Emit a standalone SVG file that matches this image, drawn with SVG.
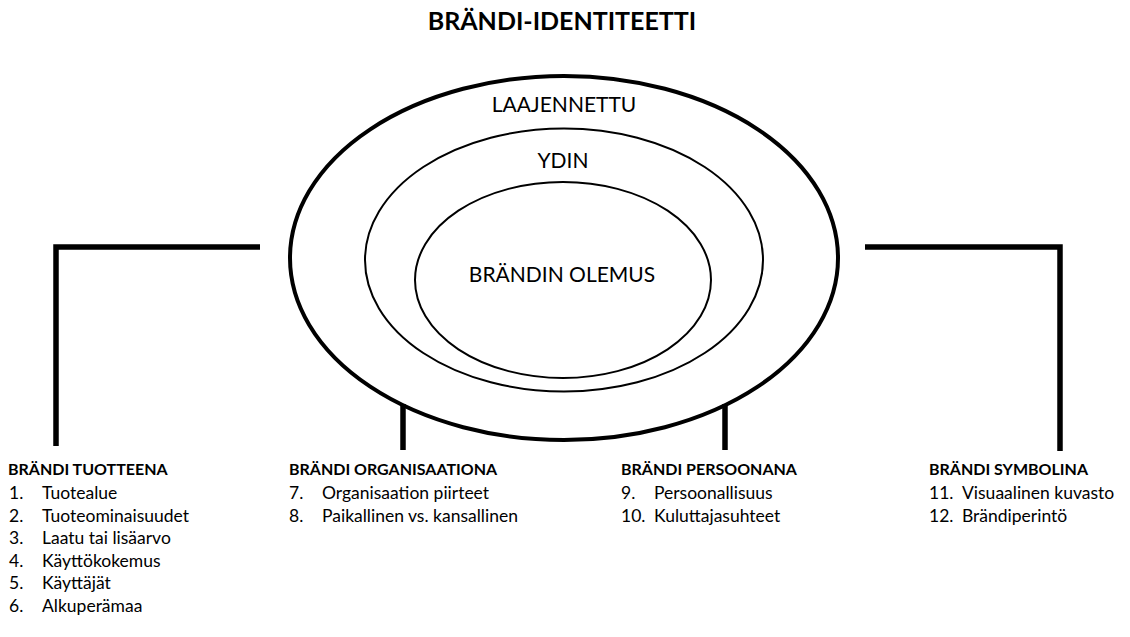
<svg xmlns="http://www.w3.org/2000/svg" width="1130" height="637" viewBox="0 0 1130 637">
<style>
text{font-family:Lato,"Open Sans","Liberation Sans",sans-serif;fill:#000}
.title{font-size:25px;font-weight:bold;text-anchor:middle}
.ring{font-size:21px;text-anchor:middle}
.hd{font-size:16px;font-weight:bold}
.it{font-size:17.5px}
.conn{stroke:#000;stroke-width:5.5;fill:none;stroke-linecap:butt}
.el{fill:none;stroke:#000}
</style>
<rect width="1130" height="637" fill="#fff"/>
<text class="title" x="562" y="30">BRÄNDI-IDENTITEETTI</text>
<g id="connectors">
<polyline class="conn" points="260,247 56,247 56,446"/>
<polyline class="conn" points="865,247 1060,247 1060,451"/>
<line class="conn" x1="403" y1="404" x2="403" y2="450"/>
<line class="conn" x1="725" y1="404" x2="725" y2="450"/>
</g>
<g id="outer">
<ellipse class="el" cx="564" cy="258" rx="274" ry="182" stroke-width="4"/>
<text class="ring" x="564" y="112">LAAJENNETTU</text>
</g>
<g id="middle">
<ellipse class="el" cx="564" cy="260" rx="199" ry="131.5" stroke-width="2"/>
<text class="ring" x="563" y="168">YDIN</text>
</g>
<g id="inner">
<ellipse class="el" cx="563" cy="280" rx="148" ry="98" stroke-width="2"/>
<text class="ring" x="562" y="282">BRÄNDIN OLEMUS</text>
</g>
<g id="tuotteena">
<text class="hd" x="8" y="475">BRÄNDI TUOTTEENA</text>
<text class="it" x="9" y="499">1.</text><text class="it" x="42" y="499">Tuotealue</text>
<text class="it" x="9" y="521.5">2.</text><text class="it" x="42" y="521.5">Tuoteominaisuudet</text>
<text class="it" x="9" y="544">3.</text><text class="it" x="42" y="544">Laatu tai lisäarvo</text>
<text class="it" x="9" y="566.5">4.</text><text class="it" x="42" y="566.5">Käyttökokemus</text>
<text class="it" x="9" y="589">5.</text><text class="it" x="42" y="589">Käyttäjät</text>
<text class="it" x="9" y="611.5">6.</text><text class="it" x="42" y="611.5">Alkuperämaa</text>
</g>
<g id="organisaationa">
<text class="hd" x="289" y="475">BRÄNDI ORGANISAATIONA</text>
<text class="it" x="289" y="499">7.</text><text class="it" x="322" y="499">Organisaation piirteet</text>
<text class="it" x="289" y="521.5">8.</text><text class="it" x="322" y="521.5">Paikallinen vs. kansallinen</text>
</g>
<g id="persoonana">
<text class="hd" x="621" y="475">BRÄNDI PERSOONANA</text>
<text class="it" x="621" y="499">9.</text><text class="it" x="654" y="499">Persoonallisuus</text>
<text class="it" x="621" y="521.5">10.</text><text class="it" x="654" y="521.5">Kuluttajasuhteet</text>
</g>
<g id="symbolina">
<text class="hd" x="929" y="475">BRÄNDI SYMBOLINA</text>
<text class="it" x="929" y="499">11.</text><text class="it" x="962" y="499">Visuaalinen kuvasto</text>
<text class="it" x="929" y="521.5">12.</text><text class="it" x="962" y="521.5">Brändiperintö</text>
</g>
</svg>
